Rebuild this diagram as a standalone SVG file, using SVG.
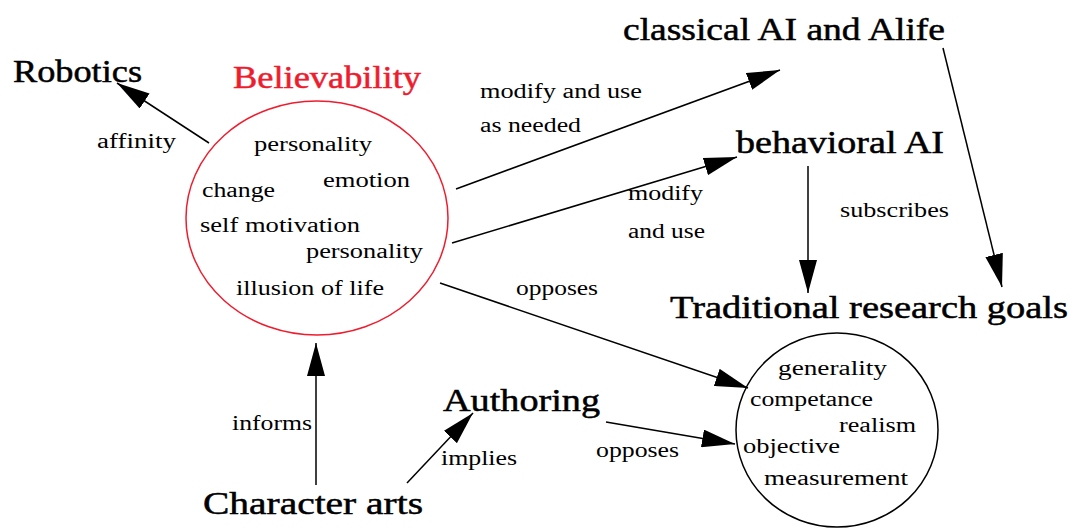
<svg xmlns="http://www.w3.org/2000/svg" width="1070" height="529" viewBox="0 0 1070 529">
<style>
text{font-family:"Liberation Serif","Times New Roman",serif;fill:#000}
.big{font-size:32px;stroke:#000;stroke-width:0.5}
.sm{font-size:20px}
.big.red{fill:#ee1c2e;stroke:#ee1c2e}
.conn line{stroke:#000;stroke-width:1.5;fill:none;marker-end:url(#ah)}
</style>
<defs>
<marker id="ah" markerUnits="userSpaceOnUse" viewBox="0 0 33 18" markerWidth="33" markerHeight="18" refX="33" refY="9" orient="auto">
<path d="M0,0 L33,9 L0,18 Z" fill="#000"/>
</marker>
</defs>
<rect width="1070" height="529" fill="#fff"/>

<g id="connectors" class="conn">
<line x1="209" y1="143" x2="117" y2="83"/>
<line x1="456" y1="189" x2="780" y2="70"/>
<line x1="452" y1="243" x2="737" y2="157"/>
<line x1="440" y1="283" x2="748" y2="388"/>
<line x1="808" y1="166" x2="808" y2="293"/>
<line x1="943" y1="48" x2="1002" y2="287"/>
<line x1="316" y1="485" x2="316" y2="343"/>
<line x1="407" y1="483" x2="473" y2="413"/>
<line x1="606" y1="422" x2="735" y2="444"/>
</g>

<g id="edge-labels">
<text class="sm" x="97" y="148" textLength="79" lengthAdjust="spacingAndGlyphs">affinity</text>
<text class="sm" x="480" y="98" textLength="162" lengthAdjust="spacingAndGlyphs">modify and use</text>
<text class="sm" x="480" y="132" textLength="101" lengthAdjust="spacingAndGlyphs">as needed</text>
<text class="sm" x="628" y="200" textLength="75" lengthAdjust="spacingAndGlyphs">modify</text>
<text class="sm" x="628" y="238" textLength="77" lengthAdjust="spacingAndGlyphs">and use</text>
<text class="sm" x="840" y="217" textLength="109" lengthAdjust="spacingAndGlyphs">subscribes</text>
<text class="sm" x="516" y="295" textLength="82" lengthAdjust="spacingAndGlyphs">opposes</text>
<text class="sm" x="232" y="430" textLength="80" lengthAdjust="spacingAndGlyphs">informs</text>
<text class="sm" x="441" y="465" textLength="76" lengthAdjust="spacingAndGlyphs">implies</text>
<text class="sm" x="596" y="457" textLength="83" lengthAdjust="spacingAndGlyphs">opposes</text>
</g>

<g id="robotics">
<text class="big" x="13" y="82" textLength="129" lengthAdjust="spacingAndGlyphs">Robotics</text>
</g>

<g id="believability">
<text class="big red" x="233" y="88" textLength="188" lengthAdjust="spacingAndGlyphs">Believability</text>
<ellipse cx="317" cy="218" rx="131" ry="117" fill="none" stroke="#ee1c2e" stroke-width="1.5"/>
<text class="sm" x="254" y="151" textLength="118" lengthAdjust="spacingAndGlyphs">personality</text>
<text class="sm" x="323" y="187" textLength="87" lengthAdjust="spacingAndGlyphs">emotion</text>
<text class="sm" x="202" y="197" textLength="73" lengthAdjust="spacingAndGlyphs">change</text>
<text class="sm" x="200" y="232" textLength="160" lengthAdjust="spacingAndGlyphs">self motivation</text>
<text class="sm" x="306" y="258" textLength="117" lengthAdjust="spacingAndGlyphs">personality</text>
<text class="sm" x="236" y="295" textLength="148" lengthAdjust="spacingAndGlyphs">illusion of life</text>
</g>

<g id="classical-ai">
<text class="big" x="623" y="40" textLength="322" lengthAdjust="spacingAndGlyphs">classical AI and Alife</text>
</g>

<g id="behavioral-ai">
<text class="big" x="736" y="153" textLength="208" lengthAdjust="spacingAndGlyphs">behavioral AI</text>
</g>

<g id="traditional-goals">
<text class="big" x="670" y="318" textLength="398" lengthAdjust="spacingAndGlyphs">Traditional research goals</text>
</g>

<g id="goals-circle">
<ellipse cx="837" cy="430" rx="101" ry="97" fill="none" stroke="#000" stroke-width="1.5"/>
<text class="sm" x="778" y="375" textLength="109" lengthAdjust="spacingAndGlyphs">generality</text>
<text class="sm" x="750" y="406" textLength="123" lengthAdjust="spacingAndGlyphs">competance</text>
<text class="sm" x="839" y="432" textLength="77" lengthAdjust="spacingAndGlyphs">realism</text>
<text class="sm" x="743" y="453" textLength="97" lengthAdjust="spacingAndGlyphs">objective</text>
<text class="sm" x="764" y="485" textLength="144" lengthAdjust="spacingAndGlyphs">measurement</text>
</g>

<g id="authoring">
<text class="big" x="443" y="411" textLength="157" lengthAdjust="spacingAndGlyphs">Authoring</text>
</g>

<g id="character-arts">
<text class="big" x="203" y="514" textLength="220" lengthAdjust="spacingAndGlyphs">Character arts</text>
</g>
</svg>
